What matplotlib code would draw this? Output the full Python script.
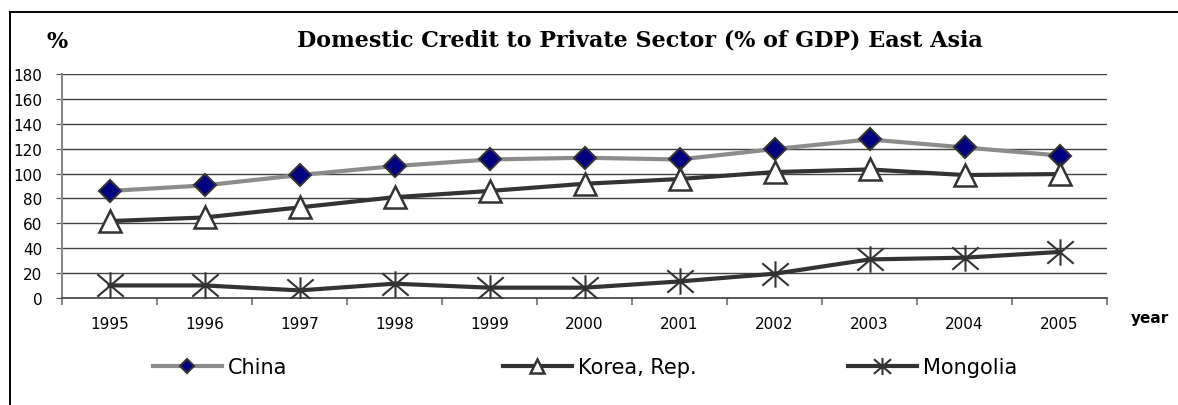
import numpy as np
import matplotlib
matplotlib.use("Agg")
import matplotlib.pyplot as plt
from matplotlib.path import Path
from matplotlib.lines import Line2D

# Datos: credito domestico al sector privado (% del PIB)
anios = ['1995', '1996', '1997', '1998', '1999', '2000',
         '2001', '2002', '2003', '2004', '2005']
china = [86, 90.5, 98.8, 106, 111.3, 112.7, 111.3, 119.7, 127.4, 121, 114.5]
corea = [61.8, 64.7, 72.8, 81, 86, 91.8, 95.6, 101.2, 103.3, 98.8, 99.6]
mongolia = [10.1, 10.1, 6.1, 11.5, 8.3, 8.3, 13.3, 19.5, 31, 32.4, 37]

# marcador tipo asterisco (vertical + X)
estrella = Path([(0, -1), (0, 1), (-1, -0.85), (1, 0.85), (-1, 0.85), (1, -0.85)],
                [Path.MOVETO, Path.LINETO, Path.MOVETO, Path.LINETO,
                 Path.MOVETO, Path.LINETO])

fig = plt.figure(figsize=(11.78, 4.06), dpi=100)
ax = fig.add_axes([62/1178, 1-299/406, (1107-62)/1178, (299-75)/406])

x = np.arange(len(anios))
l1, = ax.plot(x, china, color='#8c8c8c', lw=3, marker='D', ms=11,
              mfc='#000080', mec='#333333', mew=1.5, zorder=3)
l2, = ax.plot(x, corea, color='#333333', lw=3, marker='^', ms=16,
              mfc='white', mec='#333333', mew=1.8, zorder=3)
l3, = ax.plot(x, mongolia, color='#333333', lw=3, marker=estrella, ms=19,
              mfc='none', mec='#333333', mew=1.5, zorder=3)

ax.set_xlim(-0.5, len(anios) - 0.5)
ax.set_ylim(0, 180)
ax.set_yticks(np.arange(0, 181, 20))
ax.set_xticks(np.arange(-0.5, len(anios), 1))
ax.set_xticklabels([])
ax.set_xticks(x, minor=True)
ax.set_xticklabels(anios, minor=True)

ax.grid(axis='y', color='#404040', lw=1)
ax.set_axisbelow(True)
for s in ['top', 'right']:
    ax.spines[s].set_visible(False)
ax.spines['left'].set_color('#888888')
ax.spines['left'].set_linewidth(1.5)
ax.spines['bottom'].set_color('#404040')
ax.spines['bottom'].set_linewidth(1.2)

ax.tick_params(axis='y', direction='out', length=4, color='#555555',
               labelsize=11, pad=10)
ax.tick_params(axis='x', which='major', direction='out', length=5,
               color='#888888', width=1.5)
ax.tick_params(axis='x', which='minor', length=0, labelsize=11, pad=13)

# titulo y etiquetas de ejes
fig.text(640/1178, 1-40/406, 'Domestic Credit to Private Sector (% of GDP) East Asia',
         ha='center', va='center', fontsize=16, fontweight='bold',
         family='DejaVu Serif')
fig.text(57/1178, 1-42/406, '%', ha='center', va='center', fontsize=16,
         fontweight='bold', family='DejaVu Serif')
fig.text(1150/1178, 1-318/406, 'year', ha='center', va='center', fontsize=11,
         fontweight='bold')

# leyenda: una entrada por serie
nombres = ['China', 'Korea, Rep.', 'Mongolia']
posx = [153, 503, 848]
for linea, nombre, px in zip([l1, l2, l3], nombres, posx):
    fig.legend([linea], [nombre], loc='center left',
               bbox_to_anchor=(px/1178, 1-368/406), frameon=False,
               fontsize=15, handlelength=3.3, markerscale=0.65,
               borderpad=0, borderaxespad=0, handletextpad=0.3)

# marco exterior
fig.add_artist(Line2D([10/1178, 10/1178], [0, 1-13/406], color='black', lw=1.4))
fig.add_artist(Line2D([10/1178, 1], [1-13/406, 1-13/406], color='black', lw=1.4))

fig.savefig('out.png', dpi=100)
